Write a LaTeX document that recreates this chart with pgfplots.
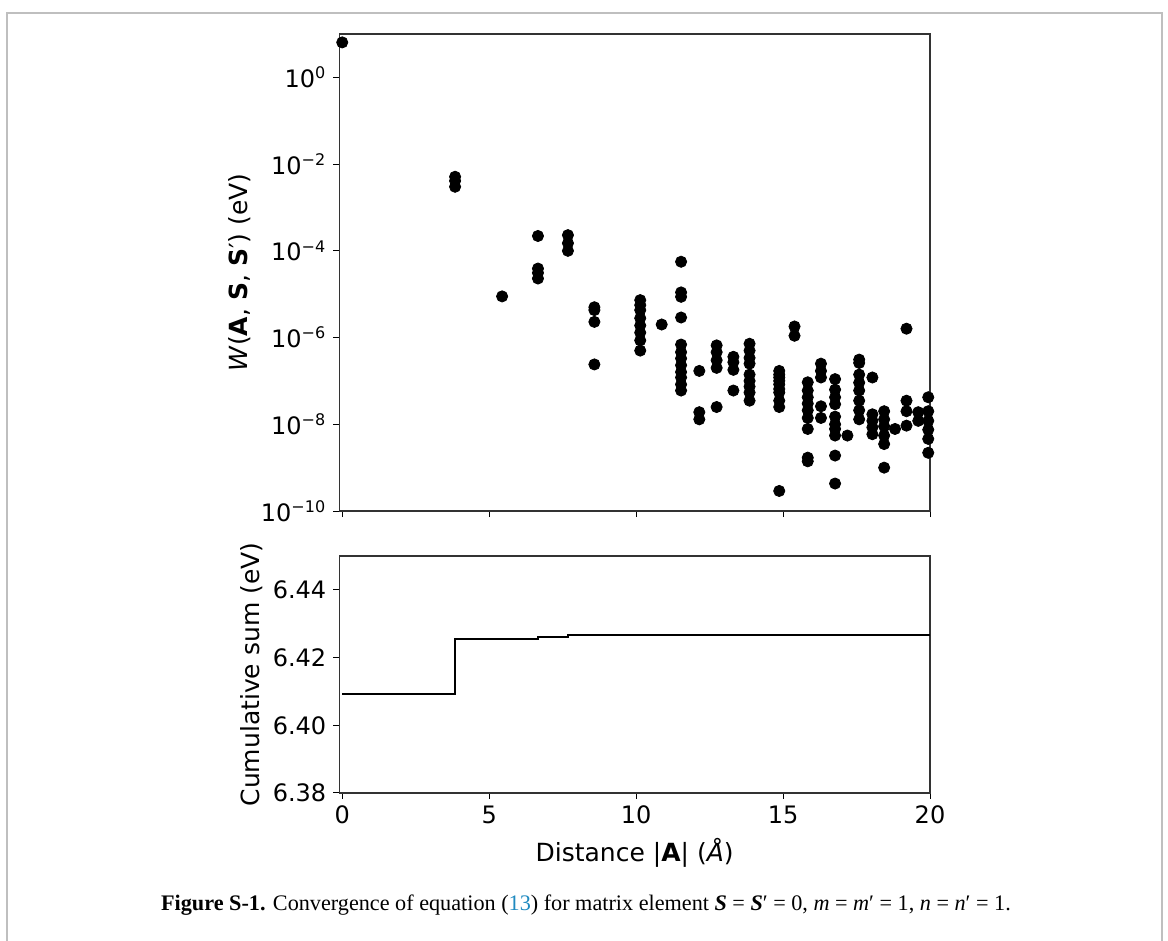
\documentclass[border=0pt]{standalone}
\usepackage{pgfplots}
\pgfplotsset{compat=1.18}
\usepackage{fontspec}
\setmainfont{DejaVu Sans}
\newfontfamily\capfont{Liberation Serif}
\definecolor{capblue}{HTML}{1F8AC0}
\begin{document}
\begin{tikzpicture}
\useasboundingbox (0,0) rectangle (584pt,-470.5pt);
\draw[gray!50, line width=0.8pt] (3.5pt,-470.5pt) -- (3.5pt,-6.5pt) -- (581pt,-6.5pt) -- (581pt,-470.5pt);
\pgfplotsset{
  myax/.style={
    scale only axis,
    anchor=north west,
    width=295.35pt,
    xmin=-0.1, xmax=20,
    axis line style={line width=0.6pt, black!80},
    tick align=outside,
    major tick length=3pt,
    every tick/.style={black, line width=0.5pt},
    xtick pos=left, ytick pos=left,
    xtick={0,5,10,15,20},
    /pgf/number format/assume math mode=true,
    tick label style={font=\fontsize{12}{14}\selectfont},
    label style={font=\fontsize{12.5}{15}\selectfont},
  }
}
\begin{axis}[myax,
  at={(169.65pt,-17pt)},
  height=238.5pt,
  ymode=log, ymin=1e-10, ymax=10,
  ytick={1e-10,1e-8,1e-6,1e-4,1e-2,1},
  yticklabels={10\textsuperscript{−10},10\textsuperscript{−8},10\textsuperscript{−6},10\textsuperscript{−4},10\textsuperscript{−2},10\textsuperscript{0}},
  yminorticks=false,
  xticklabels={},
  ylabel={\textit{W}(\textbf{A}, \textbf{S}, \textbf{S}′) (eV)},
  ylabel style={yshift=-2pt},
  clip=false,
]
\addplot[only marks, mark=*, mark size=2.8pt, black] table {
x y
0 6.409
3.84 5.1e-3
3.84 4.1e-3
3.84 3.0e-3
5.44 8.9e-6
6.66 2.2e-4
6.66 3.9e-5
6.66 3.1e-5
6.66 2.3e-5
7.68 2.3e-4
7.68 1.5e-4
7.68 1.0e-4
8.58 5.0e-6
8.58 4.3e-6
8.58 2.3e-6
8.58 2.4e-7
10.14 7.3e-6
10.14 5.6e-6
10.14 4.3e-6
10.14 2.8e-6
10.14 1.9e-6
10.14 1.3e-6
10.14 8.6e-7
10.14 5.0e-7
10.87 2.0e-6
11.53 5.6e-5
11.53 1.1e-5
11.53 8.7e-6
11.53 2.9e-6
11.53 6.9e-7
11.53 4.6e-7
11.53 3.3e-7
11.53 2.3e-7
11.53 1.6e-7
11.53 1.2e-7
11.53 8.3e-8
11.53 6.0e-8
12.15 1.7e-7
12.15 1.9e-8
12.15 1.3e-8
12.74 6.6e-7
12.74 4.6e-7
12.74 3.0e-7
12.74 2.0e-7
12.74 2.5e-8
13.31 3.6e-7
13.31 2.7e-7
13.31 1.8e-7
13.31 6.0e-8
13.86 7.2e-7
13.86 5.0e-7
13.86 3.4e-7
13.86 2.5e-7
13.86 1.4e-7
13.86 1.0e-7
13.86 7.4e-8
13.86 5.4e-8
13.86 3.5e-8
14.87 1.7e-7
14.87 1.4e-7
14.87 1.2e-7
14.87 1.0e-7
14.87 8.3e-8
14.87 6.5e-8
14.87 5.4e-8
14.87 3.5e-8
14.87 2.5e-8
14.87 2.9e-10
15.39 1.8e-6
15.39 1.1e-6
15.84 9.3e-8
15.84 6.0e-8
15.84 4.2e-8
15.84 3.0e-8
15.84 2.1e-8
15.84 1.4e-8
15.84 7.8e-9
15.84 1.7e-9
15.84 1.4e-9
16.29 2.5e-7
16.29 1.7e-7
16.29 1.2e-7
16.29 2.6e-8
16.29 1.4e-8
16.77 1.1e-7
16.77 6.3e-8
16.77 4.2e-8
16.77 2.9e-8
16.77 1.5e-8
16.77 1.0e-8
16.77 7.8e-9
16.77 5.5e-9
16.77 1.9e-9
16.77 4.3e-10
17.19 5.5e-9
17.59 3.1e-7
17.59 2.6e-7
17.59 1.4e-7
17.59 9.1e-8
17.59 6.0e-8
17.59 3.5e-8
17.59 2.1e-8
17.59 1.3e-8
18.04 1.2e-7
18.04 1.7e-8
18.04 1.2e-8
18.04 8.5e-9
18.04 5.9e-9
18.44 2.0e-8
18.44 1.3e-8
18.44 9.0e-9
18.44 5.5e-9
18.44 3.5e-9
18.44 1.0e-9
18.81 7.8e-9
19.2 1.6e-6
19.2 3.5e-8
19.2 2.0e-8
19.2 9.3e-9
19.6 1.9e-8
19.6 1.2e-8
19.94 4.2e-8
19.94 2.0e-8
19.94 1.2e-8
19.94 7.5e-9
19.94 4.6e-9
19.94 2.2e-9
};
\end{axis}
\begin{axis}[myax,
  at={(169.65pt,-278pt)},
  height=118.5pt,
  ymin=6.38, ymax=6.45,
  ytick={6.38,6.40,6.42,6.44},
  yticklabel style={/pgf/number format/.cd, fixed, fixed zerofill, precision=2},
  xlabel={Distance |\textbf{A}| (\textit{Å})},
  ylabel={Cumulative sum (eV)},
  ylabel style={yshift=-2pt},
]
\addplot[const plot, black, line width=1pt] table {
x y
0 6.4092
3.84 6.4255
6.66 6.4261
7.68 6.4266
8.58 6.4267
11.53 6.4268
20 6.4268
};
\end{axis}
\node[font=\capfont\fontsize{11.1}{13}\selectfont] at (293pt,-452.5pt) {\textbf{Figure S-1.} Convergence of equation ({\color{capblue}13}) for matrix element \textbf{\textit{S}} = \textbf{\textit{S}}′ = 0, \textit{m} = \textit{m}′ = 1, \textit{n} = \textit{n}′ = 1.};
\end{tikzpicture}
\end{document}
